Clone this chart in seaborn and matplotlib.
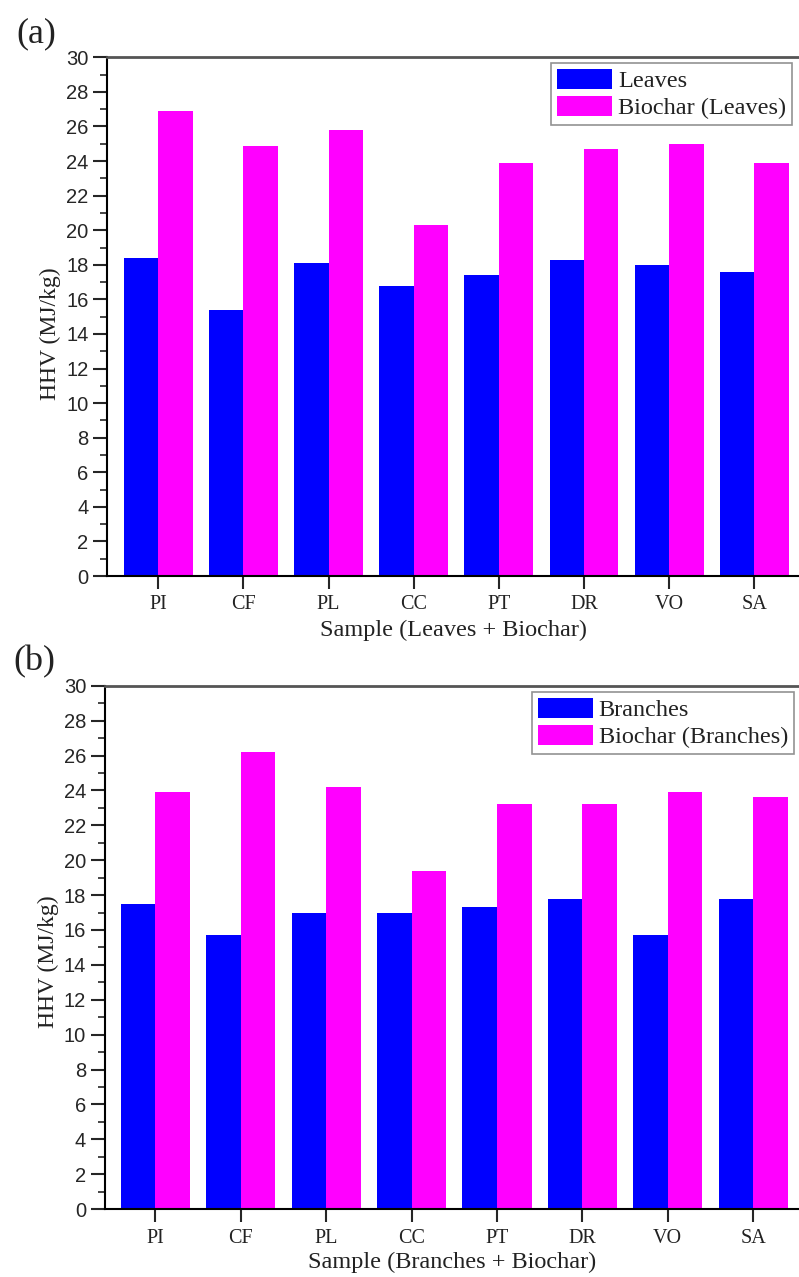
import numpy as np
import pandas as pd
import matplotlib
matplotlib.use("Agg")
import matplotlib.pyplot as plt
from matplotlib.ticker import MultipleLocator
import seaborn as sns

# =========================================
# DATA
# =========================================

samples = ["PI", "CF", "PL", "CC", "PT", "DR", "VO", "SA"]

leaves = [18.4, 15.4, 18.1, 16.8, 17.4, 18.3, 18.0, 17.6]
biochar_leaves = [26.9, 24.9, 25.8, 20.3, 23.9, 24.7, 25.0, 23.9]

branches = [17.5, 15.7, 17.0, 17.0, 17.3, 17.8, 15.7, 17.8]
biochar_branches = [23.9, 26.2, 24.2, 19.4, 23.2, 23.2, 23.9, 23.6]

colors = ["#0000FF", "#FF00FF"]

# =========================================
# STYLE
# =========================================

sns.set_style("ticks")
plt.rcParams["font.family"] = ["Liberation Serif", "DejaVu Serif"]

fig = plt.figure(figsize=(7.99, 12.77), dpi=100)

# axes placed to match the cropped original (right spine cut off)
ax_a = fig.add_axes([0.1343, 0.5489, 0.8657, 0.4062])
ax_b = fig.add_axes([0.1312, 0.0532, 0.8688, 0.4098])


def long_table(raw, char, raw_name, char_name):
    return pd.DataFrame({
        "Sample": samples * 2,
        "HHV": raw + char,
        "Type": [raw_name] * len(samples) + [char_name] * len(samples),
    })


def draw_panel(ax, df, xlabel, xlim, legend_anchor, ylabel_y, xlabelpad):
    sns.barplot(
        data=df, x="Sample", y="HHV", hue="Type",
        palette=colors, saturation=1, width=0.81,
        linewidth=0, ax=ax,
    )

    ax.set_ylim(0, 30)
    ax.set_xlim(*xlim)
    ax.yaxis.set_major_locator(MultipleLocator(2))
    ax.yaxis.set_minor_locator(MultipleLocator(1))

    ax.tick_params(axis="y", which="major", direction="out", length=10,
                   width=1.5, pad=3.5, labelsize=14.5)
    ax.tick_params(axis="y", which="minor", direction="out", length=5,
                   width=1.2)
    ax.tick_params(axis="x", which="major", direction="out", length=9,
                   width=1.5, pad=5, labelsize=14.5)
    for lab in ax.get_yticklabels():
        lab.set_fontfamily("Liberation Sans")
    for lab in ax.get_xticklabels():
        lab.set_color("#222222")

    for side in ["left", "bottom"]:
        ax.spines[side].set_color("black")
        ax.spines[side].set_linewidth(1.5)
    ax.spines["top"].set_color("#555555")
    ax.spines["top"].set_linewidth(2)
    ax.spines["right"].set_visible(False)

    ax.set_xlabel(xlabel, fontsize=17.5, labelpad=xlabelpad, color="#222222")
    ax.set_ylabel("HHV (MJ/kg)", fontsize=17, color="#222222")
    ax.yaxis.label.set_va("center")
    ax.yaxis.set_label_coords(-0.082, ylabel_y)

    leg = ax.legend(
        loc="upper right", bbox_to_anchor=legend_anchor,
        fontsize=17.5, frameon=True, fancybox=False,
        borderaxespad=0, borderpad=0.25, handlelength=2.25,
        handleheight=0.9, handletextpad=0.25, labelspacing=0.15,
    )
    leg.get_frame().set_edgecolor("#777777")
    leg.get_frame().set_linewidth(1.2)
    for t in leg.get_texts():
        t.set_color("#222222")


df_a = long_table(leaves, biochar_leaves, "Leaves", "Biochar (Leaves)")
df_b = long_table(branches, biochar_branches, "Branches", "Biochar (Branches)")

draw_panel(ax_a, df_a, "Sample (Leaves + Biochar)", (-0.599, 7.525),
           (0.99, 0.99), 0.468, 4)
draw_panel(ax_b, df_b, "Sample (Branches + Biochar)", (-0.591, 7.537),
           (0.993, 0.989), 0.472, 3)

# panel letters
fig.text(36 / 799, 1 - 34 / 1277, "(a)", fontsize=26, ha="center",
         va="center", color="#222222")
fig.text(34 / 799, 1 - 662 / 1277, "(b)", fontsize=26, ha="center",
         va="center", color="#222222")

fig.savefig("out.png", dpi=100, facecolor="white")
